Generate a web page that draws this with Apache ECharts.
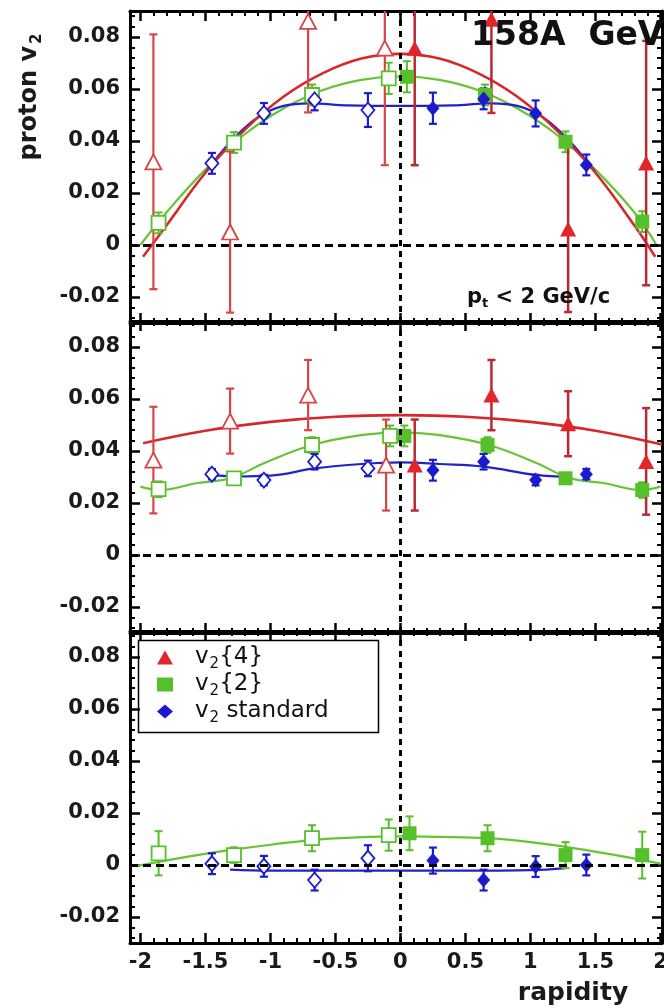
<!DOCTYPE html>
<html>
<head>
<meta charset="utf-8">
<script src="https://cdn.jsdelivr.net/npm/echarts@6/dist/echarts.min.js"></script>
<style>
  html, body { margin: 0; padding: 0; background: #fff; }
  #chart { width: 664px; height: 1008px; }
</style>
</head>
<body>
<div id="chart"></div>
<script>
// ---- axis ranges and tick labels ----
const X_MIN = -2.08, X_MAX = 2.012;
const Y_MIN = -0.03, Y_MAX = 0.09;
const xTickValues = [-2, -1.5, -1, -0.5, 0, 0.5, 1, 1.5, 2];
const yTickValues = [-0.02, 0, 0.02, 0.04, 0.06, 0.08];

// ---- data: [rapidity, v2, error] ----
// top panel (pt < 2 GeV/c)
const top_v4_refl = [[-1.90, 0.032, 0.049], [-1.31, 0.005, 0.031], [-0.71, 0.086, 0.035], [-0.12, 0.0757, 0.045]];
const top_v4      = [[0.11, 0.0757, 0.045], [0.70, 0.0868, 0.036], [1.29, 0.0062, 0.032], [1.89, 0.0315, 0.047]];
const top_v2_refl = [[-1.86, 0.0085, 0.004], [-1.28, 0.0394, 0.004], [-0.68, 0.0577, 0.004], [-0.09, 0.0641, 0.006]];
const top_v2      = [[0.05, 0.0647, 0.006], [0.65, 0.0577, 0.004], [1.27, 0.0397, 0.004], [1.86, 0.009, 0.004]];
const top_std_refl = [[-1.45, 0.0314, 0.004], [-1.05, 0.0506, 0.004], [-0.66, 0.0558, 0.004], [-0.25, 0.0519, 0.0065]];
const top_std      = [[0.25, 0.0526, 0.006], [0.64, 0.0562, 0.004], [1.04, 0.0506, 0.005], [1.43, 0.0308, 0.004]];
const top_v4_fit  = [[-1.98, -0.0045], [-1.8, 0.0075], [-1.5, 0.0278], [-1.2, 0.0442], [-0.9, 0.057], [-0.6, 0.066], [-0.3, 0.0717], [0, 0.0735], [0.3, 0.0717], [0.6, 0.066], [0.9, 0.057], [1.2, 0.0442], [1.5, 0.0278], [1.8, 0.0075], [1.96, -0.0045]];
const top_v2_fit  = [[-2.0, 0.0], [-1.8, 0.0125], [-1.5, 0.029], [-1.2, 0.0425], [-0.9, 0.0525], [-0.6, 0.0595], [-0.3, 0.0635], [0, 0.0648], [0.3, 0.0635], [0.6, 0.0595], [0.9, 0.0525], [1.2, 0.0425], [1.5, 0.029], [1.8, 0.0125], [1.97, 0.0]];
const top_std_fit = [[-1.5, 0.028], [-1.3, 0.040], [-1.1, 0.049], [-0.9, 0.0535], [-0.7, 0.0545], [-0.4, 0.0537], [0, 0.0535], [0.4, 0.0537], [0.7, 0.0545], [0.9, 0.0535], [1.1, 0.049], [1.3, 0.040], [1.5, 0.028]];

// middle panel
const mid_v4_refl = [[-1.90, 0.0365, 0.0205], [-1.31, 0.0515, 0.0125], [-0.71, 0.0615, 0.0135], [-0.11, 0.0346, 0.0175]];
const mid_v4      = [[0.11, 0.0346, 0.0175], [0.70, 0.0615, 0.0135], [1.29, 0.0505, 0.0125], [1.89, 0.036, 0.0205]];
const mid_v2_refl = [[-1.86, 0.0253, 0.003], [-1.28, 0.0295, 0.002], [-0.68, 0.0423, 0.003], [-0.08, 0.0458, 0.004]];
const mid_v2      = [[0.03, 0.0458, 0.004], [0.67, 0.0423, 0.003], [1.27, 0.0295, 0.002], [1.86, 0.025, 0.003]];
const mid_std_refl = [[-1.45, 0.0311, 0.002], [-1.05, 0.0288, 0.002], [-0.66, 0.0359, 0.003], [-0.25, 0.0333, 0.003]];
const mid_std      = [[0.25, 0.0326, 0.004], [0.64, 0.0359, 0.003], [1.04, 0.0288, 0.002], [1.43, 0.0311, 0.002]];
const mid_v4_fit  = [[-1.98, 0.043], [-1.5, 0.0478], [-1.0, 0.0512], [-0.5, 0.0532], [0, 0.0538], [0.5, 0.0532], [1.0, 0.0512], [1.5, 0.0478], [2.012, 0.0425]];
const mid_v2_fit  = [[-2.0, 0.0263], [-1.85, 0.025], [-1.57, 0.0276], [-1.3, 0.0296], [-1.05, 0.0353], [-0.68, 0.0423], [-0.29, 0.0462], [0, 0.0472], [0.29, 0.0462], [0.68, 0.0423], [1.05, 0.0353], [1.3, 0.0296], [1.57, 0.0276], [1.85, 0.025], [2.0, 0.0263]];
const mid_std_fit = [[-1.5, 0.031], [-1.25, 0.0302], [-1.0, 0.0305], [-0.66, 0.0333], [-0.3, 0.035], [0, 0.0356], [0.3, 0.035], [0.64, 0.034], [1.04, 0.0308], [1.3, 0.030]];

// bottom panel
const bot_v2_refl = [[-1.86, 0.0045, 0.0085], [-1.28, 0.0038, 0.003], [-0.68, 0.0103, 0.005], [-0.09, 0.0115, 0.006]];
const bot_v2      = [[0.07, 0.0122, 0.0065], [0.67, 0.0103, 0.005], [1.27, 0.0038, 0.005], [1.86, 0.0038, 0.009]];
const bot_std_refl = [[-1.45, 0.0005, 0.004], [-1.05, -0.0005, 0.004], [-0.66, -0.0058, 0.004], [-0.25, 0.0026, 0.005]];
const bot_std      = [[0.25, 0.0017, 0.005], [0.64, -0.0058, 0.004], [1.04, -0.0006, 0.004], [1.43, 0.0, 0.004]];
const bot_v2_fit  = [[-2.02, -0.0003], [-1.6, 0.0035], [-1.3, 0.0058], [-1.0, 0.0078], [-0.68, 0.0096], [-0.3, 0.0107], [0, 0.011], [0.3, 0.0108], [0.67, 0.0103], [1.0, 0.0088], [1.27, 0.007], [1.6, 0.0043], [1.86, 0.0019], [2.0, 0.0005]];
const bot_std_fit = [[-1.31, -0.0018], [-1.0, -0.0022], [-0.5, -0.0022], [0, -0.0022], [0.5, -0.0022], [1.0, -0.002], [1.27, -0.0012]];

// ---- styling ----
const FONT = 'DejaVu Sans';
const RED = '#e3242b', RED_ERR = '#b82a30', RED_FIT = '#d8262a', RED_OPEN = '#d94545';
const GREEN = '#56c02b', GREEN_FIT = '#66c436';
const BLUE = '#1b1bcb', BLUE_FIT = '#2222c8';
const GRID_TOPS = [11, 321, 631];
const GRID_H = 312, GRID_L = 130, GRID_R = 2;

function minorValues(lo, hi, step, majorStep) {
  const out = [];
  const n = Math.round((hi - lo) / step);
  for (let k = 0; k <= n; k++) {
    const v = +(lo + k * step).toFixed(6);
    const r = v / majorStep;
    if (Math.abs(r - Math.round(r)) > 1e-6) out.push(v);
  }
  return out;
}
const xMinor = minorValues(-2.0, 2.0, 0.1, 0.5);
const yMinor = minorValues(-0.028, 0.088, 0.004, 0.02);

const grids = [], xAxes = [], yAxes = [], series = [];

GRID_TOPS.forEach((top, g) => {
  grids.push({ left: GRID_L, right: GRID_R, top: top, height: GRID_H, outerBoundsMode: 'none', containLabel: false });
  const xBase = { type: 'value', gridIndex: g, min: X_MIN, max: X_MAX, splitLine: { show: false } };
  const yBase = { type: 'value', gridIndex: g, min: Y_MIN, max: Y_MAX, splitLine: { show: false } };
  const line = { show: true, onZero: false, lineStyle: { color: '#000', width: 3 } };
  const noLine = { show: false, onZero: false };
  const majTick = vals => ({ show: true, inside: true, length: 10, lineStyle: { color: '#000', width: 2.5 }, customValues: vals });
  const minTick = vals => ({ show: true, inside: true, length: 5, lineStyle: { color: '#000', width: 2 }, customValues: vals });
  const noLabel = { show: false };
  // main x axis (bottom), top frame, and minor ticks
  xAxes.push(Object.assign({}, xBase, {
    position: 'bottom', axisLine: line, axisTick: majTick(xTickValues),
    axisLabel: g === 2 ? {
      show: true, customValues: xTickValues, margin: 9, color: '#1a1a1a',
      fontFamily: FONT, fontWeight: 'bold', fontSize: 21,
      formatter: v => String(v)
    } : noLabel
  }));
  xAxes.push(Object.assign({}, xBase, { position: 'top', axisLine: line, axisTick: majTick(xTickValues), axisLabel: noLabel }));
  xAxes.push(Object.assign({}, xBase, { position: 'bottom', axisLine: noLine, axisTick: minTick(xMinor), axisLabel: noLabel }));
  xAxes.push(Object.assign({}, xBase, { position: 'top', axisLine: noLine, axisTick: minTick(xMinor), axisLabel: noLabel }));
  // main y axis (left), right frame, and minor ticks
  yAxes.push(Object.assign({}, yBase, {
    position: 'left', axisLine: line, axisTick: majTick(yTickValues),
    axisLabel: {
      show: true, customValues: yTickValues, margin: 10, color: '#1a1a1a',
      fontFamily: FONT, fontWeight: 'bold', fontSize: 21,
      formatter: v => String(v)
    }
  }));
  yAxes.push(Object.assign({}, yBase, { position: 'right', axisLine: line, axisTick: majTick(yTickValues), axisLabel: noLabel }));
  yAxes.push(Object.assign({}, yBase, { position: 'left', axisLine: noLine, axisTick: minTick(yMinor), axisLabel: noLabel }));
  yAxes.push(Object.assign({}, yBase, { position: 'right', axisLine: noLine, axisTick: minTick(yMinor), axisLabel: noLabel }));
});

function fitSeries(g, data, color, width, extra) {
  return Object.assign({
    type: 'line', xAxisIndex: g * 4, yAxisIndex: g * 4, data: data,
    smooth: 0.4, showSymbol: false, silent: true, z: 2,
    lineStyle: { color: color, width: width }
  }, extra || {});
}

function errSeries(g, data, color, cap, width) {
  return {
    type: 'custom', xAxisIndex: g * 4, yAxisIndex: g * 4, data: data, z: 3, silent: true,
    renderItem: (params, api) => {
      const x = api.value(0), v = api.value(1), e = api.value(2);
      let hi = v + e, lo = v - e;
      const capHi = hi <= Y_MAX, capLo = lo >= Y_MIN;
      hi = Math.min(hi, Y_MAX); lo = Math.max(lo, Y_MIN);
      const a = api.coord([x, hi]), b = api.coord([x, lo]);
      const st = { stroke: color, lineWidth: width };
      const kids = [{ type: 'line', shape: { x1: a[0], y1: a[1], x2: b[0], y2: b[1] }, style: st }];
      if (capHi) kids.push({ type: 'line', shape: { x1: a[0] - cap, y1: a[1], x2: a[0] + cap, y2: a[1] }, style: st });
      if (capLo) kids.push({ type: 'line', shape: { x1: b[0] - cap, y1: b[1], x2: b[0] + cap, y2: b[1] }, style: st });
      return { type: 'group', children: kids };
    }
  };
}

function markerSeries(g, name, data, symbol, size, color, open) {
  return {
    type: 'scatter', name: name, xAxisIndex: g * 4, yAxisIndex: g * 4,
    data: data.map(d => [d[0], d[1]]), symbol: symbol, symbolSize: size, z: 4,
    itemStyle: open ? { color: '#fff', borderColor: color, borderWidth: 1.8, opacity: 1 } : { color: color, borderWidth: 0, opacity: 1 }
  };
}

const zeroLines = {
  silent: true, symbol: 'none', label: { show: false },
  data: [
    { yAxis: 0, lineStyle: { color: '#000', width: 3, type: [8, 5] } },
    { xAxis: 0, lineStyle: { color: '#000', width: 3, type: [6, 5] } }
  ]
};

const panels = [
  { v4r: top_v4_refl, v4: top_v4, v2r: top_v2_refl, v2: top_v2, sr: top_std_refl, s: top_std, f4: top_v4_fit, f2: top_v2_fit, fs: top_std_fit },
  { v4r: mid_v4_refl, v4: mid_v4, v2r: mid_v2_refl, v2: mid_v2, sr: mid_std_refl, s: mid_std, f4: mid_v4_fit, f2: mid_v2_fit, fs: mid_std_fit },
  { v4r: null, v4: null, v2r: bot_v2_refl, v2: bot_v2, sr: bot_std_refl, s: bot_std, f4: null, f2: bot_v2_fit, fs: bot_std_fit }
];

panels.forEach((p, g) => {
  series.push(fitSeries(g, p.f2, GREEN_FIT, 2.2, { markLine: zeroLines, z: 1 }));
  series.push(fitSeries(g, p.fs, BLUE_FIT, 2.2));
  if (p.f4) series.push(fitSeries(g, p.f4, RED_FIT, 2.6));
  // error bars
  series.push(errSeries(g, p.v2r, GREEN, 4, 2));
  series.push(errSeries(g, p.v2, GREEN, 4, 2));
  series.push(errSeries(g, p.sr, BLUE, 4, 2.2));
  series.push(errSeries(g, p.s, BLUE, 4, 2.2));
  if (p.v4) {
    series.push(errSeries(g, p.v4r, RED_OPEN, 4, 2.2));
    series.push(errSeries(g, p.v4, RED_ERR, 4, 2.5));
  }
  // markers
  series.push(markerSeries(g, 'v2{2} reflected', p.v2r, 'rect', 14, GREEN, true));
  series.push(markerSeries(g, 'v2{2}', p.v2, 'rect', 14, GREEN, false));
  series.push(markerSeries(g, 'v2 standard reflected', p.sr, 'diamond', [13, 15], BLUE, true));
  series.push(markerSeries(g, 'v2 standard', p.s, 'diamond', [13, 15], BLUE, false));
  if (p.v4) {
    series.push(markerSeries(g, 'v2{4} reflected', p.v4r, 'triangle', [16, 15], RED_OPEN, true));
    series.push(markerSeries(g, 'v2{4}', p.v4, 'triangle', [16, 15], RED, false));
  }
});

const legendText = {
  'v2{4}': '{v|v}{s|2}{4}',
  'v2{2}': '{v|v}{s|2}{2}',
  'v2 standard': '{v|v}{s|2} standard'
};

const option = {
  animation: false,
  backgroundColor: '#fff',
  grid: grids,
  xAxis: xAxes,
  yAxis: yAxes,
  series: series,
  legend: {
    data: ['v2{4}', 'v2{2}', 'v2 standard'],
    orient: 'vertical', left: 157, top: 646, padding: 0, itemGap: 1,
    itemWidth: 16, itemHeight: 14, selectedMode: false,
    itemStyle: { opacity: 1 },
    formatter: n => legendText[n],
    textStyle: {
      fontFamily: FONT, fontSize: 23, color: '#111', padding: [0, 0, 0, 17], lineHeight: 22,
      rich: {
        v: { fontFamily: FONT, fontSize: 23, color: '#111' },
        s: { fontFamily: FONT, fontSize: 15, color: '#111', padding: [14, 0, 0, 1] }
      }
    }
  },
  graphic: [
    { type: 'rect', left: 136, top: 638, shape: { width: 240, height: 92 }, style: { fill: 'none', stroke: '#000', lineWidth: 1.5 }, z: 10, silent: true },
    {
      type: 'text', x: 30, y: 97, rotation: Math.PI / 2, z: 10, silent: true,
      style: {
        text: '{b|proton v}{s|2}', align: 'center', verticalAlign: 'middle',
        rich: {
          b: { fontFamily: FONT, fontWeight: 'bold', fontSize: 24, fill: '#1a1a1a' },
          s: { fontFamily: FONT, fontWeight: 'bold', fontSize: 15, fill: '#1a1a1a', padding: [14, 0, 0, 2] }
        }
      }
    },
    {
      type: 'text', x: 471, y: 36, z: 10, silent: true,
      style: { text: '158A  GeV', fontFamily: FONT, fontWeight: 'bold', fontSize: 33, fill: '#111', verticalAlign: 'middle' }
    },
    {
      type: 'text', x: 467, y: 298, z: 10, silent: true,
      style: {
        text: '{b|p}{s|t}{b| < 2 GeV/c}', verticalAlign: 'middle',
        rich: {
          b: { fontFamily: FONT, fontWeight: 'bold', fontSize: 21, fill: '#111' },
          s: { fontFamily: FONT, fontWeight: 'bold', fontSize: 13, fill: '#111', padding: [12, 0, 0, 0] }
        }
      }
    },
    {
      type: 'text', x: 573, y: 993, z: 10, silent: true,
      style: { text: 'rapidity', fontFamily: FONT, fontWeight: 'bold', fontSize: 25, fill: '#1a1a1a', align: 'center', verticalAlign: 'middle' }
    }
  ]
};

const chart = echarts.init(document.getElementById('chart'), null, { renderer: 'canvas' });
chart.setOption(option);
</script>
</body>
</html>
